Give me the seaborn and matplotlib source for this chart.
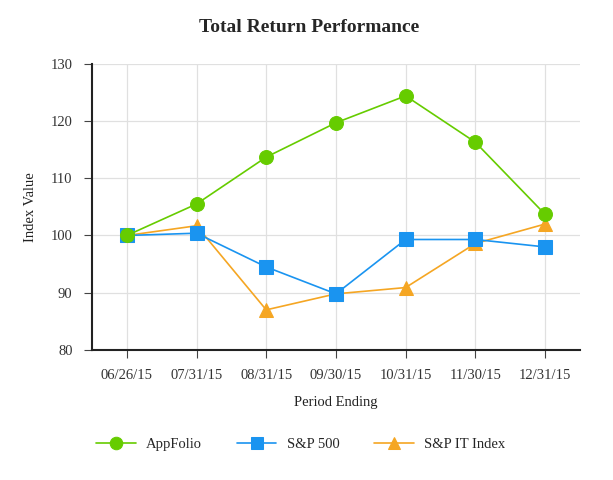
import matplotlib
matplotlib.use("Agg")
import matplotlib.pyplot as plt
import seaborn as sns
import pandas as pd

periods = ["06/26/15", "07/31/15", "08/31/15", "09/30/15", "10/31/15", "11/30/15", "12/31/15"]
appfolio = [100.0, 105.5, 113.7, 119.7, 124.4, 116.3, 103.7]
sp500 = [100.0, 100.4, 94.5, 89.8, 99.3, 99.3, 98.0]
sp_it = [100.0, 101.7, 87.0, 89.8, 90.9, 98.6, 102.0]

series_names = ["AppFolio", "S&P 500", "S&P IT Index"]
colors = ["#66cc00", "#1a94f0", "#f5a623"]
markers = ["o", "s", "^"]
layers = [5, 4, 3]

df = pd.DataFrame({"Period": periods, "AppFolio": appfolio,
                   "S&P 500": sp500, "S&P IT Index": sp_it})
df_melted = df.melt(id_vars="Period", var_name="Series", value_name="Value")
df_melted["x"] = df_melted["Period"].map({p: i for i, p in enumerate(periods)})

sns.set_style("white")
plt.rcParams["font.family"] = ["Liberation Serif", "DejaVu Serif"]

fig = plt.figure(figsize=(6.13, 4.8), dpi=100)
ax = fig.add_axes([0.150, 0.271, 0.796, 0.596])

for name, color, marker, z in zip(series_names, colors, markers, layers):
    sub = df_melted[df_melted["Series"] == name]
    sns.lineplot(data=sub, x="x", y="Value", ax=ax, color=color, marker=marker,
                 markersize=10, markeredgecolor=color, linewidth=1.2, label=name,
                 zorder=z)

ax.set_xlim(-0.5, len(periods) - 0.5)
ax.set_ylim(80, 130)
ax.set_yticks(range(80, 131, 10))
ax.set_xticks(range(len(periods)))
ax.set_xticklabels(periods)
ax.grid(True, color="#e0e0e0", linewidth=0.9)
ax.set_axisbelow(True)

for s in ["top", "right"]:
    ax.spines[s].set_visible(False)
for s in ["left", "bottom"]:
    ax.spines[s].set_color("#222222")
    ax.spines[s].set_linewidth(1.5)

ax.tick_params(axis="both", which="both", direction="out", length=6, width=0.8,
               color="#444444", labelsize=10.5, labelcolor="#333333", pad=8)
ax.tick_params(axis="y", left=True)
ax.tick_params(axis="x", bottom=True)

ax.set_xlabel("Period Ending", fontsize=10.5, color="#222222", labelpad=10)
ax.set_ylabel("Index Value", fontsize=10.5, color="#222222", labelpad=10)
fig.text(0.505, 0.943, "Total Return Performance", ha="center", va="center",
         fontsize=14, fontweight="bold")

ax.legend(loc="center", bbox_to_anchor=(0.428, -0.33), ncol=3, frameon=False,
          fontsize=10.5, handlelength=2.7, handletextpad=0.7, columnspacing=2.4,
          markerscale=0.9)

fig.savefig("out.png", dpi=100)
